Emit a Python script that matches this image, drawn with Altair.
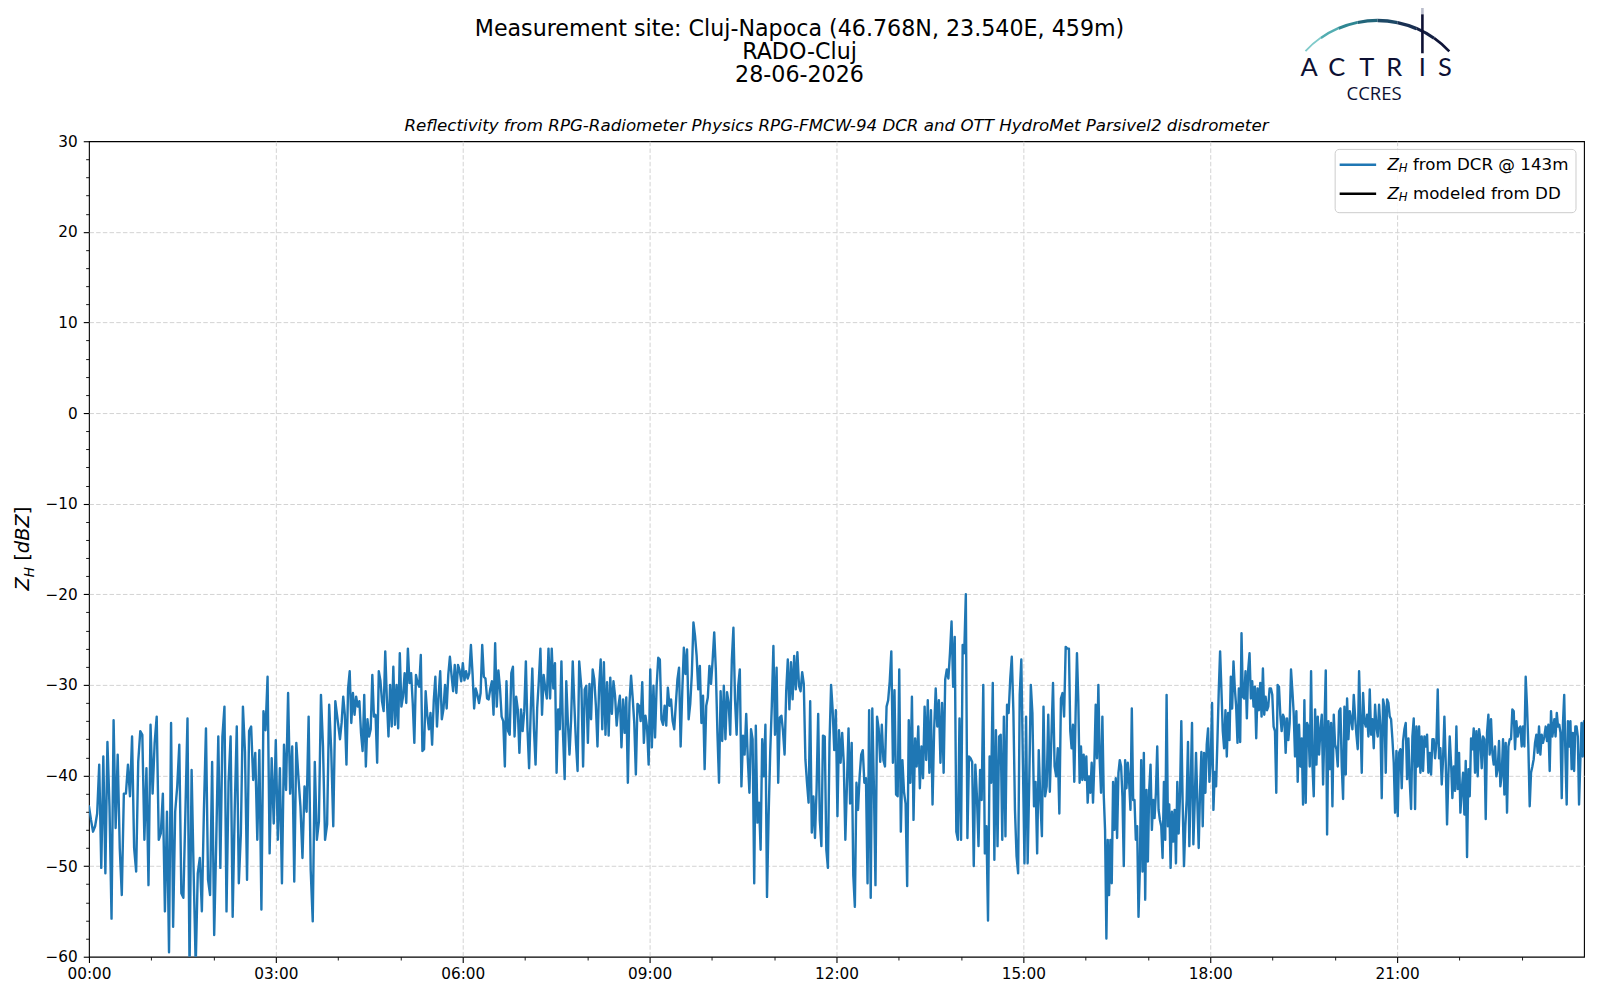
import math
import altair as alt
import pandas as pd

# ---------------- data ----------------
# Z_H from DCR @ 143m [dBZ], in consecutive pieces of the day
SEG_A = [-43.4, -44.9, -46.2, -45.6, -44.2, -38.8, -50.2, -37.9, -50.8, -36.3, -43.4, -55.8, -33.9, -45.8, -37.7, -48.0,
         -53.2, -42.0, -42.0, -38.8, -42.3, -35.7, -48.0, -50.6, -38.5, -35.1, -35.5, -47.1, -39.2, -52.1, -34.4, -42.0,
         -36.4, -33.5, -47.1, -46.4, -42.0, -55.0, -44.0, -59.5, -34.2, -56.7, -44.0, -41.2, -36.6, -53.0, -53.5, -43.8,
         -33.7, -61.5, -39.4, -50.8, -61.0, -50.8, -49.1, -55.0, -43.8, -34.8, -51.5, -53.2, -38.5, -57.6, -47.3, -35.7,
         -50.2, -35.7, -32.4, -55.0, -40.7, -35.7, -55.6, -43.8, -34.6, -51.9, -46.4, -32.4, -37.4, -51.5, -35.1, -34.6,
         -40.5, -37.5, -47.1, -37.2, -54.8, -32.9, -35.0, -29.1, -48.6, -38.1, -45.3, -36.1, -47.1, -39.2, -51.9, -36.6,
         -41.6, -30.9, -42.0, -36.8, -51.7, -36.4, -40.1, -43.4, -49.1, -41.2, -44.0, -33.5, -50.4, -56.1, -38.5, -47.1,
         -45.1, -31.1, -36.8, -47.1, -45.4, -32.2, -37.2, -45.6, -31.8]
SEG_B = [-36.0, -34.2, -31.3, -33.3, -38.8, -30.4, -28.5, -34.2, -30.9, -33.3, -31.3, -32.4, -31.8, -35.3, -37.3, -31.1,
         -39.0, -33.8, -35.7, -34.9, -28.9, -33.5, -33.3, -38.6, -28.5, -29.5, -31.8, -32.9, -26.3, -31.6, -35.7, -30.0,
         -34.6, -28.0, -34.4, -30.0, -34.8, -26.5, -32.4, -31.3, -28.7, -32.0, -26.0, -29.8, -28.7, -32.0, -36.4, -28.9,
         -29.8, -30.2, -26.7, -37.3, -37.1, -30.7, -33.3, -34.9, -33.1, -36.6, -31.8, -29.1, -34.6, -31.3, -28.5, -33.8,
         -32.7, -30.0, -32.6, -28.9, -26.9, -28.9, -30.7, -27.8, -30.9, -27.8, -28.4, -29.6, -27.6, -29.5, -28.5, -29.3,
         -28.7, -25.6, -28.7, -32.6, -30.4, -31.1, -32.0, -30.9, -25.6, -29.1, -29.3, -31.5, -31.6, -30.4, -29.6, -33.3,
         -25.4, -32.4, -28.4, -30.4, -33.5, -34.0, -39.0, -29.6, -35.1, -35.5, -28.7, -28.0, -35.7, -31.3, -32.7, -37.5,
         -32.7, -35.1, -32.9, -27.4, -34.9, -39.2, -32.9, -28.2, -34.9, -38.8, -32.6, -29.6, -26.0, -33.3, -28.9, -30.4,
         -31.5, -26.0, -31.5, -26.0, -30.4, -27.6, -39.7, -32.7, -34.9, -27.4, -35.5, -40.4, -29.6, -34.2, -37.7, -33.8,
         -27.4, -32.2, -36.4, -39.5, -27.4]
SEG_C = [-30.5, -39.0, -30.5, -30.1, -36.4, -29.9, -33.8, -28.3, -29.4, -32.3, -36.8, -30.3, -27.2, -34.9, -27.5, -35.5,
         -29.7, -35.6, -29.2, -33.2, -29.6, -31.2, -34.5, -32.5, -31.2, -36.9, -31.6, -35.3, -31.4, -40.8, -32.0, -29.0,
         -31.4, -34.2, -39.9, -32.1, -32.3, -34.0, -29.7, -36.4, -33.4, -34.7, -38.8, -28.3, -36.9, -30.1, -35.8, -30.1,
         -27.0, -27.2, -33.8, -34.4, -32.3, -34.5, -30.3, -32.3, -31.6, -34.0, -34.9, -32.1, -29.4, -28.1, -36.8, -30.8,
         -25.9, -28.8, -26.1, -33.8, -32.1, -28.8, -23.1, -24.6, -26.8, -30.5, -27.9, -34.2, -31.2, -39.3, -32.3, -31.4,
         -27.9, -29.9, -27.3, -24.2, -28.3, -35.3, -40.8, -30.7, -36.2, -30.1, -36.0, -30.8, -32.0, -35.5, -27.3, -23.7,
         -31.6, -35.5, -30.1, -28.3, -41.2, -35.6, -37.7, -33.2, -38.2, -41.9, -34.9, -36.0, -51.9, -34.5, -45.2, -43.0,
         -48.2, -36.0, -40.1, -34.4, -53.4, -44.5, -37.5, -32.3, -25.7, -35.5, -28.1, -40.8, -33.6, -33.4, -35.1, -37.7,
         -30.7, -27.2, -32.7, -27.5, -31.6, -26.8, -30.5, -26.4, -30.1, -30.7, -28.6, -29.9, -38.2, -40.8, -43.0, -31.8,
         -46.3, -42.3, -46.9, -41.5, -33.2, -44.9, -47.8, -35.6]
SEG_D = [-35.7, -48.2, -50.2, -36.4, -30.0, -32.8, -37.2, -32.8, -44.5, -35.0, -38.6, -35.3, -38.6, -47.1, -41.0, -34.8,
         -43.1, -36.4, -51.0, -54.5, -40.8, -43.8, -40.1, -37.7, -37.2, -40.8, -40.3, -51.9, -32.8, -53.5, -32.6, -41.2,
         -52.1, -33.5, -34.8, -38.5, -34.4, -38.3, -39.0, -32.4, -31.7, -29.6, -26.3, -38.6, -30.6, -42.1, -42.3, -28.3,
         -46.2, -38.3, -41.8, -43.1, -52.2, -33.9, -40.8, -31.3, -44.9, -35.9, -39.0, -34.6, -41.4, -36.8, -40.3, -32.4,
         -38.3, -31.7, -39.7, -32.8, -43.2, -35.0, -30.4, -34.6, -31.7, -38.6, -32.0, -39.7, -29.4, -28.3, -29.3, -26.5,
         -23.0, -30.2, -24.7, -46.2, -47.1, -33.7, -47.1, -25.6, -26.5, -20.0, -46.9, -37.9, -38.1, -38.5, -50.0, -38.8,
         -42.3, -47.8, -39.4, -42.7, -30.0, -48.6, -45.6, -56.0, -37.9, -40.8, -29.8, -49.3, -35.0, -47.8, -35.7, -35.5,
         -47.1, -33.5, -46.7, -32.2, -33.1, -29.4, -26.9, -32.9, -43.8, -48.9, -50.8, -31.1, -27.2, -38.6, -49.7, -33.5,
         -49.7, -40.8, -30.0, -33.1, -43.4, -40.7, -48.6, -37.2, -42.7, -46.7, -32.4, -42.3, -41.2, -33.3, -41.8, -35.7,
         -29.8, -39.0, -40.1, -37.0, -44.2, -31.5, -30.9, -33.5, -25.8, -26.0]
SEG_E = [-26.0, -35.1, -37.0, -34.4, -40.7, -33.1, -26.5, -31.7, -40.8, -36.8, -40.5, -37.7, -40.5, -37.9, -43.0, -40.1,
         -41.9, -38.6, -43.0, -38.6, -32.2, -38.1, -30.0, -38.3, -41.9, -33.5, -42.1, -46.0, -58.0, -47.1, -53.2, -47.1,
         -51.9, -40.7, -46.0, -40.3, -46.9, -39.7, -38.3, -39.0, -42.3, -50.0, -38.3, -41.4, -38.6, -40.7, -43.8, -32.6,
         -42.7, -42.7, -47.1, -45.6, -55.6, -50.4, -38.3, -50.6, -37.5, -53.7, -41.6, -49.5, -41.6, -38.8, -46.0, -42.7,
         -44.7, -41.9, -36.8, -43.8, -44.9, -45.6, -49.1, -40.7, -47.1, -31.1, -45.6, -43.2, -50.2, -44.0, -47.3, -43.8,
         -49.7, -40.7, -46.4, -42.3, -34.0, -43.0, -50.0, -45.6, -42.7, -36.3, -47.8, -41.2, -34.2, -47.6, -43.0, -37.5,
         -43.0, -48.0, -41.8, -37.4, -45.6, -37.5, -41.9, -36.6, -34.8, -40.7, -38.3, -32.0, -43.8, -39.6, -41.2, -36.1,
         -30.6, -26.3, -30.6, -35.1, -37.0, -32.8, -37.9, -33.1, -36.1, -29.1, -32.6, -27.4, -30.4, -32.4, -36.4, -30.4,
         -36.3, -24.3, -31.3, -31.5, -28.5, -33.7, -28.3, -26.5, -31.5, -29.6, -32.4, -30.2, -35.9, -30.4, -32.8, -29.8,
         -33.5, -28.2, -33.3, -31.3, -32.8, -32.4, -30.4, -30.4, -31.1, -34.6, -35.1, -41.9, -30.0, -30.2, -33.3, -35.1,
         -33.3, -33.7, -37.5, -33.7, -36.1, -34.2, -28.3, -30.6, -33.1, -37.9, -32.9, -40.7, -34.4, -39.0, -35.9, -43.2,
         -31.7, -43.0, -34.2, -34.6, -39.0, -28.5, -38.8, -42.3]
SEG_F = [-32.7, -38.8, -33.5, -37.7, -34.9, -33.3, -41.0, -34.6, -28.4, -46.5, -34.0, -39.3, -34.2, -43.4, -33.3, -36.6,
         -37.1, -39.0, -32.9, -32.6, -39.0, -42.6, -32.4, -39.9, -31.5, -36.0, -32.9, -33.8, -34.9, -31.1, -33.5, -35.5,
         -37.1, -28.5, -33.8, -39.7, -30.9, -34.0, -34.6, -33.3, -35.7, -30.5, -35.5, -33.8, -37.0, -32.2, -34.6, -35.7,
         -32.2, -34.6, -42.5, -31.6, -32.4, -39.7, -31.6, -32.0, -33.5, -33.8, -36.0, -38.6, -44.1, -37.3, -44.5, -37.5,
         -37.1, -41.4, -36.2, -34.9, -34.2, -40.4, -35.9, -40.6, -43.7, -35.7, -33.7, -43.7, -34.6, -39.0, -34.6, -39.7,
         -35.7, -39.5, -35.7, -36.8, -35.5, -39.7, -37.5, -39.9, -36.0, -36.0, -38.1, -36.4, -30.5, -38.1, -37.0, -41.0,
         -38.2, -33.5, -38.6, -45.4, -39.9, -35.7, -38.6, -42.5, -39.0, -41.7, -34.6, -41.5, -37.5, -44.1, -41.7, -39.7,
         -44.3, -38.4, -49.0, -39.3, -42.3, -35.9, -37.1, -34.8, -39.7, -35.1, -40.1, -34.9, -36.0, -39.2, -35.7, -36.0,
         -44.8, -35.3, -33.3, -37.7, -33.8, -37.5, -38.8, -36.8, -40.1, -39.3, -36.2, -41.2, -39.9, -36.0, -42.1, -36.4,
         -44.1, -36.8, -36.0, -36.0, -32.7, -32.9, -37.1, -34.0, -35.7, -34.8, -34.6, -36.8, -34.6, -36.8, -29.1, -32.4,
         -36.8, -43.4, -39.7, -39.0, -38.2, -36.4, -35.5, -37.5, -34.6, -37.7, -35.5, -36.4, -35.7, -34.6, -36.2, -34.4,
         -39.5, -32.9, -35.7, -34.6]
SEG_G = [-33.8, -35.7, -33.1, -34.6, -34.4, -35.3, -42.5, -34.2, -31.1, -37.9, -43.2, -34.0, -36.8, -34.0, -39.3, -35.3,
         -39.5, -34.6, -34.6, -35.7, -43.2, -38.6, -34.2, -37.9, -34.0]

# first and last sample time of each piece, minutes after 00:00 UTC
SEG_TIMES = [(0.0, 237.3), (241.8, 472.2), (474.4, 707.0), (708.7, 942.3),
             (943.9, 1179.7), (1181.0, 1410.8), (1411.4, 1440.0)]
SEG_VALUES = [SEG_A, SEG_B, SEG_C, SEG_D, SEG_E, SEG_F, SEG_G]

# ticks: every hour on x (labelled every 3 h), every 2 dBZ on y (labelled every 10)
X_TICKS = [0, 60, 120, 180, 240, 300, 360, 420, 480, 540, 600, 660, 720, 780, 840, 900, 960, 1020,
           1080, 1140, 1200, 1260, 1320, 1380]
X_LABELS = ["00:00", "03:00", "06:00", "09:00", "12:00", "15:00", "18:00", "21:00"]
Y_TICKS = [-60, -58, -56, -54, -52, -50, -48, -46, -44, -42, -40, -38, -36, -34, -32, -30, -28, -26, -24, -22,
           -20, -18, -16, -14, -12, -10, -8, -6, -4, -2, 0, 2, 4, 6, 8, 10, 12, 14, 16, 18, 20, 22, 24, 26, 28, 30]

TITLE_LINES = ["Measurement site: Cluj-Napoca (46.768N, 23.540E, 459m)", "RADO-Cluj", "28-06-2026"]
SUBTITLE = "Reflectivity from RPG-Radiometer Physics RPG-FMCW-94 DCR and OTT HydroMet Parsivel2 disdrometer"
LEGEND_TEXT = ["from DCR @ 143m", "modeled from DD"]

rows = []
for (t0, t1), vals in zip(SEG_TIMES, SEG_VALUES):
    n = len(vals)
    for i, v in enumerate(vals):
        rows.append({"t": t0 + (t1 - t0) * i / (n - 1), "z": v})
dcr = pd.DataFrame(rows)

# ---------------- layout ----------------
W, H = 1496, 816
FONT = "DejaVu Sans"
BLUE = "#1f77b4"
NAVY = "#0d1033"

xs = alt.Scale(domain=[0, 1440], nice=False, zero=False)
ys = alt.Scale(domain=[-60, 30], nice=False, zero=False)

x_minor = "datum.value % 180 !== 0"
y_minor = "datum.value % 10 !== 0"
label_list = "[" + ",".join("'%s'" % s for s in X_LABELS) + "]"
x_axis = alt.Axis(
    values=X_TICKS, title=None, labelFlush=False, labelOverlap=False, labelPadding=4,
    labelExpr="datum.value % 180 === 0 ? " + label_list + "[round(datum.value / 180)] : ''",
    tickSize={"condition": {"test": x_minor, "value": 3.3}, "value": 5.7},
    tickWidth={"condition": {"test": x_minor, "value": 0.9}, "value": 1.1},
    gridOpacity={"condition": {"test": x_minor + " || datum.value === 0", "value": 0}, "value": 1},
)
y_axis = alt.Axis(
    values=Y_TICKS, title=None, labelPadding=6, labelOverlap=False,
    labelExpr="datum.value % 10 === 0 ? replace(format(datum.value, 'd'), '-', '\u2212') : ''",
    tickSize={"condition": {"test": y_minor, "value": 3.3}, "value": 5.7},
    tickWidth={"condition": {"test": y_minor, "value": 0.9}, "value": 1.1},
    gridOpacity={"condition": {"test": y_minor + " || datum.value === 30 || datum.value === -60",
                               "value": 0}, "value": 1},
)

line = alt.Chart(dcr).mark_line(
    color=BLUE, strokeWidth=2.4, clip=True, strokeJoin="round", strokeCap="round"
).encode(
    x=alt.X("t:Q", scale=xs, axis=x_axis),
    y=alt.Y("z:Q", scale=ys, axis=y_axis),
)


def text_layer(s, x, y, size, align="center", baseline="middle", style="normal",
               angle=None, color="black", font=FONT, weight="normal"):
    kw = dict(align=align, baseline=baseline, fontSize=size, font=font, fontStyle=style,
              color=color, fontWeight=weight)
    if angle is not None:
        kw["angle"] = angle
    return alt.Chart(pd.DataFrame({"s": [s]})).mark_text(**kw).encode(
        text="s:N", x=alt.value(x), y=alt.value(y))


layers = [line]

# header
for s, yy in zip(TITLE_LINES, [-112.4, -89.6, -66.5]):
    layers.append(text_layer(s, 711, yy, 22.2))
layers.append(text_layer(SUBTITLE, 748, -15.5, 16.7, style="italic"))

# y axis title  Z_H [dBZ]
layers += [
    text_layer("Z", -59.5, 449.5, 19.4, align="left", baseline="alphabetic", style="italic", angle=270),
    text_layer("H", -55.0, 436.2, 13.6, align="left", baseline="alphabetic", style="italic", angle=270),
    text_layer("[", -59.5, 419.8, 19.4, align="left", baseline="alphabetic", angle=270),
    text_layer("dBZ", -59.5, 412.2, 19.4, align="left", baseline="alphabetic", style="italic", angle=270),
    text_layer("]", -59.5, 373.3, 19.4, align="left", baseline="alphabetic", angle=270),
]

# legend
one = pd.DataFrame({"a": [0]})
layers.append(alt.Chart(one).mark_rect(fill="white", fillOpacity=0.85, stroke="#cccccc", strokeWidth=1,
                                       cornerRadius=4).encode(
    x=alt.value(1247), x2=alt.value(1488), y=alt.value(8.2), y2=alt.value(71.5)))
for yy, col, s in zip([23.5, 52.5], [BLUE, "black"], LEGEND_TEXT):
    layers.append(alt.Chart(one).mark_rule(color=col, strokeWidth=2.4).encode(
        x=alt.value(1251.5), x2=alt.value(1288), y=alt.value(yy)))
    layers.append(text_layer("Z", 1299.3, yy, 16.7, align="left", style="italic"))
    layers.append(text_layer("H", 1310.7, yy + 3.6, 11.7, align="left", style="italic"))
    layers.append(text_layer(s, 1324.8, yy, 16.7, align="left"))

# ACTRIS / CCRES logo
ARC_COLORS = ["#7fcaca", "#52adb1", "#2f8793", "#22657a", "#1d4866", "#193052", "#142043", "#0e1437"]
ARC_WIDTHS = [1.8, 2.4, 3.0, 3.3, 3.5, 3.4, 3.0, 2.6]
seg = 94.0 / len(ARC_COLORS)
for k, (col, wd) in enumerate(zip(ARC_COLORS, ARC_WIDTHS)):
    a0 = -47.0 + k * seg
    a1 = a0 + seg
    if a1 <= 0.001:
        th0, th1 = 2 * math.pi + math.radians(a0), 2 * math.pi + math.radians(a1)
    else:
        th0, th1 = math.radians(a0), math.radians(a1)
    layers.append(alt.Chart(one).mark_arc(theta=th0, theta2=th1, radius=99.5, radius2=99.5 - wd,
                                          color=col).encode(x=alt.value(1289.4), y=alt.value(-23.0)))
layers.append(alt.Chart(one).mark_rule(color="#b9bccb", strokeWidth=2.6).encode(
    x=alt.value(1334.3), y=alt.value(-140), y2=alt.value(-127)))
layers.append(alt.Chart(one).mark_rule(color=NAVY, strokeWidth=2.6).encode(
    x=alt.value(1334.3), y=alt.value(-127), y2=alt.value(-88)))
for ch, xx in zip("ACTRIS", [1221.0, 1248.5, 1278.5, 1306.0, 1334.3, 1356.8]):
    layers.append(text_layer(ch, xx, -65, 25.5, baseline="alphabetic", font="Lato", color=NAVY))
layers.append(text_layer("CCRES", 1286.0, -41.7, 18.5, baseline="alphabetic", font="Open Sans", color=NAVY))

chart = alt.layer(*layers).properties(
    width=W, height=H,
    padding={"left": 81, "top": 133, "right": 8, "bottom": 35},
    autosize=alt.AutoSizeParams(type="none"),
).configure_view(
    stroke="black", strokeWidth=1.1
).configure_axis(
    labelFont=FONT, labelFontSize=15.3, labelColor="black",
    tickColor="black", domain=False,
    grid=True, gridColor="#d3d3d3", gridDash=[4.5, 2.2], gridWidth=1.0,
)

chart.save("out.html", embed_options={"renderer": "svg", "actions": False})
